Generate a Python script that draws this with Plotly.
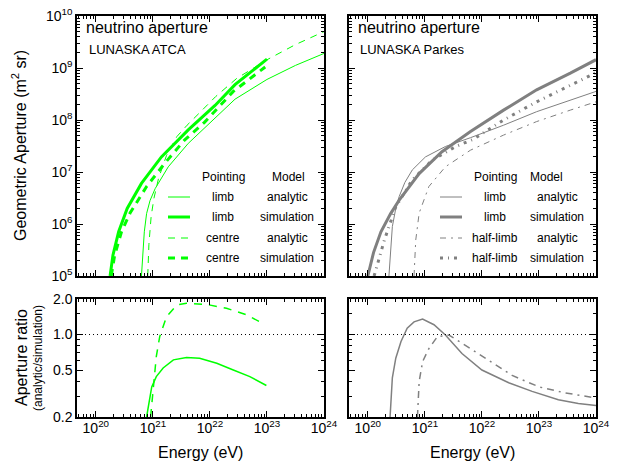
import math
import plotly.graph_objects as go

# ---------------- data (log10 energy in eV, log10 aperture in m^2 sr) ----------------
# LUNASKA ATCA
atca_limb_sim_E = [20.25, 20.30, 20.40, 20.55, 20.80, 21.15, 21.62, 22.09, 22.44, 23.0]
atca_limb_sim_A = [5.0, 5.40, 5.85, 6.30, 6.78, 7.29, 7.81, 8.28, 8.68, 9.17]
atca_centre_sim_E = [20.27, 20.33, 20.45, 20.60, 20.89, 21.21, 21.56, 21.90, 22.41, 22.97]
atca_centre_sim_A = [5.0, 5.40, 5.85, 6.21, 6.72, 7.17, 7.62, 7.95, 8.55, 9.02]
atca_limb_an_E = [20.80, 20.82, 20.85, 20.89, 20.95, 21.04, 21.27, 21.62, 21.97, 22.44, 23.0, 23.5, 24.0]
atca_limb_an_A = [5.0, 5.45, 5.85, 6.20, 6.45, 6.68, 7.10, 7.55, 7.92, 8.40, 8.78, 9.05, 9.28]
atca_centre_an_E = [20.91, 20.93, 20.97, 21.02, 21.10, 21.24, 21.42, 21.60, 21.82, 22.10, 22.47, 23.02, 23.5, 24.0]
atca_centre_an_A = [5.0, 5.6, 6.15, 6.5, 6.88, 7.32, 7.68, 7.90, 8.14, 8.45, 8.80, 9.17, 9.45, 9.70]

# LUNASKA Parkes
pk_limb_sim_E = [20.0, 20.1, 20.23, 20.4, 20.55, 20.9, 21.3, 21.8, 22.38, 22.96, 23.55, 24.0]
pk_limb_sim_A = [5.0, 5.45, 5.85, 6.2, 6.46, 6.97, 7.39, 7.78, 8.19, 8.58, 8.90, 9.16]
pk_limb_an_E = [20.37, 20.40, 20.43, 20.49, 20.55, 20.65, 20.78, 21.01, 21.36, 21.8, 22.38, 22.96, 23.55, 24.0]
pk_limb_an_A = [5.0, 5.5, 5.95, 6.3, 6.53, 6.8, 7.04, 7.29, 7.49, 7.66, 7.90, 8.16, 8.38, 8.55]
pk_half_sim_E = [20.11, 20.2, 20.29, 20.49, 20.78, 21.13, 21.54, 21.85, 22.38, 22.96, 23.55, 24.0]
pk_half_sim_A = [5.0, 5.35, 5.69, 6.33, 6.85, 7.23, 7.49, 7.63, 8.0, 8.35, 8.67, 8.91]
pk_half_an_E = [20.81, 20.82, 20.84, 20.90, 21.07, 21.36, 21.8, 22.38, 22.96, 23.55, 24.0]
pk_half_an_A = [5.0, 5.4, 5.69, 6.21, 6.72, 7.10, 7.42, 7.71, 7.97, 8.19, 8.35]

# aperture ratios (analytic / simulation)
atca_limb_ratio_E = [20.89, 20.93, 20.98, 21.06, 21.18, 21.36, 21.59, 21.82, 22.12, 22.41, 22.70, 22.99]
atca_limb_ratio = [0.20, 0.26, 0.36, 0.44, 0.52, 0.61, 0.64, 0.63, 0.57, 0.50, 0.44, 0.37]
atca_centre_ratio_E = [20.96, 21.01, 21.06, 21.12, 21.24, 21.42, 21.59, 21.94, 22.29, 22.64, 22.93]
atca_centre_ratio = [0.20, 0.34, 0.65, 0.96, 1.42, 1.78, 1.84, 1.80, 1.67, 1.47, 1.24]
pk_limb_ratio_E = [20.39, 20.43, 20.49, 20.58, 20.69, 20.81, 20.96, 21.16, 21.36, 21.65, 22.0, 22.47, 22.88, 23.34, 23.69, 24.0]
pk_limb_ratio = [0.2, 0.43, 0.63, 0.87, 1.13, 1.28, 1.35, 1.21, 0.99, 0.69, 0.50, 0.39, 0.33, 0.28, 0.26, 0.25]
pk_half_ratio_E = [20.87, 20.90, 20.96, 21.07, 21.22, 21.42, 21.71, 22.06, 22.53, 23.0, 23.46, 24.0]
pk_half_ratio = [0.2, 0.40, 0.59, 0.76, 0.96, 0.99, 0.81, 0.63, 0.45, 0.36, 0.32, 0.29]

# tick labels
energy_exps = [20, 21, 22, 23, 24]
aperture_exps = [5, 6, 7, 8, 9, 10]
ratio_ticks = [0.2, 0.5, 1.0, 2.0]
ratio_ticktext = ["0.2", "0.5", "1.0", "2.0"]
ratio_minor = [0.3, 0.4, 0.6, 0.7, 0.8, 0.9, 1.5]

GREEN = "#00ff00"
GRAY = "#808080"
FONT = "Liberation Sans, Arial, sans-serif"

W, H = 618, 462
def px(x): return x / W
def py(y): return 1 - y / H

def E(v): return [10 ** e for e in v]

# minor tick positions for decade axes (2..9 x 10^n)
x_minor = [k * 10.0 ** n for n in range(19, 24) for k in range(2, 10)]
y_minor = [k * 10.0 ** n for n in range(5, 10) for k in range(2, 10)]
x_major = [10.0 ** n for n in energy_exps]
x_major_text = [f"10<sup>{n}</sup>" for n in energy_exps]
y_major = [10.0 ** n for n in aperture_exps]
y_major_text = [f"10<sup>{n}</sup>" for n in aperture_exps]

fig = go.Figure()

def add(xv, yv, xa, ya, color, width, dash, logy=True):
    fig.add_trace(go.Scatter(x=E(xv), y=E(yv) if logy else yv, xaxis=xa, yaxis=ya,
                             mode="lines", line=dict(color=color, width=width, dash=dash),
                             showlegend=False, hoverinfo="skip"))

DASH_C = "7px,6px"
DD_THIN = "6px,5px,2px,5px"
DD_THICK = "3px,5px,1px,5px"

# top-left
add(atca_limb_an_E, atca_limb_an_A, "x", "y", GREEN, 1, "solid")
add(atca_limb_sim_E, atca_limb_sim_A, "x", "y", GREEN, 3, "solid")
add(atca_centre_an_E, atca_centre_an_A, "x", "y", GREEN, 1, DASH_C)
add(atca_centre_sim_E, atca_centre_sim_A, "x", "y", GREEN, 3, DASH_C)
# top-right
add(pk_limb_an_E, pk_limb_an_A, "x2", "y2", GRAY, 1, "solid")
add(pk_limb_sim_E, pk_limb_sim_A, "x2", "y2", GRAY, 3, "solid")
add(pk_half_an_E, pk_half_an_A, "x2", "y2", GRAY, 1, DD_THIN)
add(pk_half_sim_E, pk_half_sim_A, "x2", "y2", GRAY, 3, DD_THICK)
# bottom-left
add(atca_limb_ratio_E, atca_limb_ratio, "x3", "y3", GREEN, 1.5, "solid", logy=False)
add(atca_centre_ratio_E, atca_centre_ratio, "x3", "y3", GREEN, 1.5, "8px,7px", logy=False)
# bottom-right
add(pk_limb_ratio_E, pk_limb_ratio, "x4", "y4", GRAY, 1.5, "solid", logy=False)
add(pk_half_ratio_E, pk_half_ratio, "x4", "y4", GRAY, 1.5, "7px,5px,2px,5px", logy=False)

# reference line at ratio 1
for xa, ya in (("x3", "y3"), ("x4", "y4")):
    fig.add_shape(type="line", xref=f"{xa} domain", yref=ya, x0=0, x1=1, y0=1, y1=1,
                  line=dict(color="black", width=1, dash="1px,3px"))

XL = [77, 324]
XR = [349, 596]
YT = [16, 276]
YB = [299, 417]

common = dict(ticks="inside", ticklen=6, tickwidth=1, tickcolor="black", mirror="allticks",
              showline=True, linecolor="black", linewidth=1.5, showgrid=False, zeroline=False,
              automargin=False, tickmode="array",
              tickfont=dict(family=FONT, size=14, color="black"))

def minor(vals):
    return dict(ticks="inside", ticklen=3, tickwidth=1, tickcolor="black",
                tickmode="array", tickvals=vals, showgrid=False)

def xax(dom, anchor, labels):
    return dict(type="log", domain=[px(dom[0]), px(dom[1])], anchor=anchor,
                range=[19.67, 24], tickvals=x_major, ticktext=x_major_text,
                showticklabels=labels, ticklabelstandoff=-3,
                minor=minor(x_minor), **common)

def yax_top(anchor, labels):
    return dict(type="log", domain=[py(YT[1]), py(YT[0])], anchor=anchor,
                range=[5, 10], tickvals=y_major, ticktext=y_major_text,
                showticklabels=labels, minor=minor(y_minor), **common)

def yax_bot(anchor, labels):
    return dict(type="log", domain=[py(YB[1]), py(YB[0])], anchor=anchor,
                range=[math.log10(0.2), math.log10(2.0)],
                tickvals=ratio_ticks, ticktext=ratio_ticktext,
                showticklabels=labels, minor=minor(ratio_minor), **common)

fig.update_layout(
    width=W, height=H, margin=dict(l=0, r=0, t=0, b=0, pad=0, autoexpand=False),
    autosize=False,
    paper_bgcolor="white", plot_bgcolor="white",
    xaxis=xax(XL, "y", False), yaxis=yax_top("x", True),
    xaxis2=xax(XR, "y2", False), yaxis2=yax_top("x2", False),
    xaxis3=xax(XL, "y3", True), yaxis3=yax_bot("x3", True),
    xaxis4=xax(XR, "y4", True), yaxis4=yax_bot("x4", False),
    font=dict(family=FONT, color="black"),
    showlegend=False,
)

def txt(x, y, s, size, xanchor="center", angle=0):
    fig.add_annotation(x=px(x), y=py(y), xref="paper", yref="paper", text=s, showarrow=False,
                       font=dict(family=FONT, size=size, color="black"),
                       xanchor=xanchor, yanchor="middle", textangle=angle)

txt(84, 28, "neutrino aperture", 16, "left")
txt(87, 49, "LUNASKA ATCA", 13, "left")
txt(356, 28, "neutrino aperture", 16, "left")
txt(358, 49, "LUNASKA Parkes", 13, "left")

txt(19, 146, "Geometric Aperture (m<sup>2</sup> sr)", 16, angle=-90)
txt(21, 358, "Aperture ratio", 16, angle=-90)
txt(38, 358, "(analytic/simulation)", 12, angle=-90)
txt(200, 452, "Energy (eV)", 16)
txt(472, 452, "Energy (eV)", 16)

# legends
rows = [197, 217, 238, 258]
def legend(x0, x1, xc1, xh2, xc2, color, entries):
    txt(xc1, 177, "Pointing", 12)
    txt(xh2, 177, "Model", 12)
    for yrow, (lab1, lab2, w, dash) in zip(rows, entries):
        fig.add_shape(type="line", xref="paper", yref="paper", x0=px(x0), x1=px(x1),
                      y0=py(yrow), y1=py(yrow), line=dict(color=color, width=w, dash=dash))
        txt(xc1, yrow, lab1, 12)
        txt(xc2, yrow, lab2, 12)

legend(168, 190, 223, 288, 287, GREEN, [
    ("limb", "analytic", 1, "solid"),
    ("limb", "simulation", 3, "solid"),
    ("centre", "analytic", 1, DASH_C),
    ("centre", "simulation", 3, DASH_C),
])
legend(440, 462, 495, 546, 557, GRAY, [
    ("limb", "analytic", 1, "solid"),
    ("limb", "simulation", 3, "solid"),
    ("half-limb", "analytic", 1, DD_THIN),
    ("half-limb", "simulation", 3, DD_THICK),
])

fig.write_html("out.html")
